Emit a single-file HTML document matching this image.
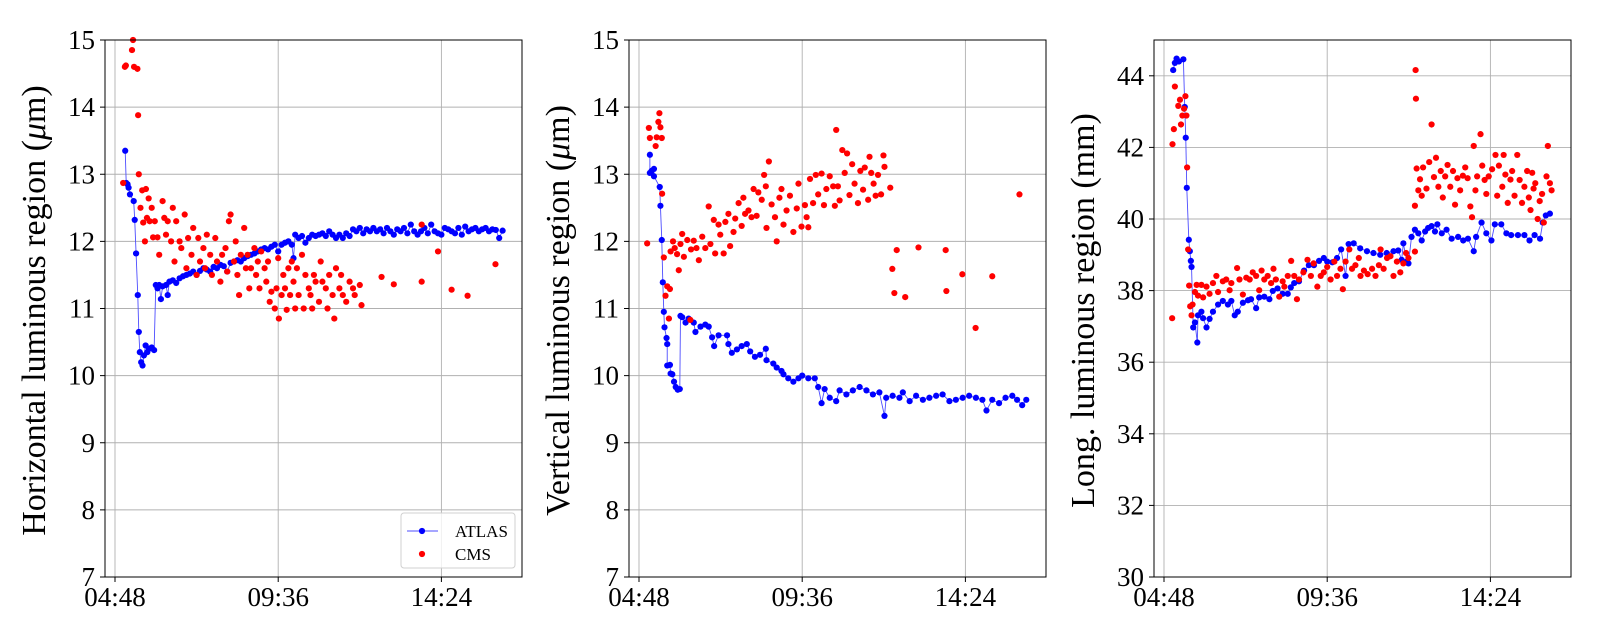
<!DOCTYPE html>
<html><head><meta charset="utf-8"><style>
body{margin:0;background:#fff;}
svg{display:block;font-family:"Liberation Serif",serif;}
</style></head><body>
<svg id="chart" width="1600" height="640" viewBox="0 0 1600 640" xmlns="http://www.w3.org/2000/svg"></svg>
<script>
const xTickHours=[4.8,9.6,14.4];
const xTickLabels=["04:48","09:36","14:24"];
const yTicksHV=[7,8,9,10,11,12,13,14,15];
const yTicksL=[30,32,34,36,38,40,42,44];
const seriesNames=["ATLAS","CMS"];

const atlasH=[[5.1,13.35],[5.13,12.87],[5.17,12.85],[5.2,12.8],[5.24,12.7],[5.35,12.6],[5.38,12.32],[5.42,11.82],[5.47,11.2],[5.5,10.65],[5.53,10.35],[5.57,10.2],[5.61,10.15],[5.65,10.3],[5.7,10.45],[5.75,10.35],[5.8,10.4],[5.88,10.42],[5.95,10.38],[6.0,11.35],[6.05,11.3],[6.1,11.35],[6.15,11.14],[6.2,11.33],[6.3,11.35],[6.35,11.2],[6.4,11.4],[6.5,11.42],[6.6,11.38],[6.7,11.45],[6.8,11.48],[6.9,11.5],[7.0,11.52],[7.1,11.55],[7.2,11.5],[7.3,11.56],[7.4,11.6],[7.5,11.58],[7.6,11.55],[7.7,11.62],[7.8,11.6],[7.9,11.65],[8.0,11.63],[8.1,11.55],[8.2,11.68],[8.3,11.7],[8.4,11.72],[8.5,11.7],[8.6,11.75],[8.7,11.78],[8.8,11.8],[8.9,11.82],[9.0,11.85],[9.1,11.88],[9.2,11.9],[9.3,11.88],[9.4,11.92],[9.5,11.95],[9.6,11.85],[9.7,11.95],[9.8,11.98],[9.9,12.0],[10.0,11.95],[10.05,11.75],[10.1,12.1],[10.2,12.05],[10.3,12.08],[10.4,11.98],[10.5,12.05],[10.6,12.1],[10.7,12.08],[10.8,12.1],[10.9,12.12],[11.0,12.08],[11.1,12.15],[11.2,12.1],[11.3,12.05],[11.4,12.1],[11.5,12.05],[11.6,12.12],[11.7,12.08],[11.8,12.18],[11.9,12.15],[12.0,12.2],[12.1,12.12],[12.2,12.18],[12.3,12.15],[12.4,12.2],[12.5,12.15],[12.6,12.18],[12.7,12.12],[12.8,12.2],[12.9,12.15],[13.0,12.1],[13.1,12.18],[13.2,12.15],[13.3,12.2],[13.4,12.12],[13.5,12.25],[13.6,12.15],[13.7,12.1],[13.8,12.15],[13.9,12.2],[14.0,12.12],[14.1,12.25],[14.2,12.15],[14.3,12.12],[14.4,12.1],[14.5,12.2],[14.6,12.18],[14.7,12.15],[14.8,12.12],[14.9,12.2],[15.0,12.1],[15.1,12.22],[15.2,12.15],[15.3,12.18],[15.4,12.2],[15.5,12.15],[15.6,12.18],[15.7,12.2],[15.8,12.15],[15.9,12.18],[16.0,12.17],[16.1,12.05],[16.2,12.16]];
const cmsH=[[5.04,12.87],[5.09,14.6],[5.12,14.62],[5.3,14.85],[5.33,15.0],[5.36,14.6],[5.46,14.57],[5.48,13.88],[5.5,13.0],[5.55,12.5],[5.6,12.76],[5.63,12.28],[5.68,12.0],[5.71,12.78],[5.74,12.35],[5.79,12.64],[5.82,12.3],[5.88,12.5],[5.92,12.06],[5.97,12.3],[6.05,12.06],[6.1,11.8],[6.2,12.6],[6.25,12.35],[6.3,12.1],[6.35,12.3],[6.45,12.0],[6.5,12.5],[6.55,11.7],[6.6,12.3],[6.7,12.0],[6.75,11.9],[6.85,12.4],[6.9,11.6],[6.95,12.05],[7.05,11.8],[7.1,12.2],[7.2,11.5],[7.25,12.05],[7.3,11.7],[7.4,11.9],[7.45,11.6],[7.5,12.1],[7.6,11.8],[7.65,11.5],[7.75,12.05],[7.8,11.7],[7.9,11.4],[7.95,11.8],[8.05,11.9],[8.1,11.55],[8.15,12.3],[8.2,12.4],[8.3,11.7],[8.35,12.0],[8.4,11.5],[8.45,11.2],[8.5,11.8],[8.6,12.2],[8.65,11.6],[8.7,11.8],[8.75,11.3],[8.8,11.6],[8.9,11.9],[8.95,11.5],[9.0,11.7],[9.05,11.3],[9.1,11.85],[9.2,11.6],[9.25,11.4],[9.3,11.7],[9.35,11.1],[9.4,11.25],[9.5,11.0],[9.55,11.3],[9.6,11.75],[9.62,10.85],[9.7,11.2],[9.75,11.5],[9.8,11.3],[9.85,10.98],[9.9,11.6],[9.95,11.2],[10.0,11.7],[10.05,11.4],[10.1,11.0],[10.15,11.6],[10.2,11.2],[10.3,11.8],[10.35,11.0],[10.4,11.5],[10.5,11.3],[10.55,11.2],[10.6,11.0],[10.65,11.5],[10.7,11.4],[10.8,11.1],[10.85,11.7],[10.9,11.4],[11.0,11.3],[11.05,11.0],[11.1,11.5],[11.2,11.2],[11.25,10.85],[11.3,11.6],[11.4,11.3],[11.45,11.5],[11.5,11.2],[11.6,11.1],[11.7,11.4],[11.8,11.3],[11.85,11.2],[12.0,11.35],[12.05,11.05],[12.64,11.47],[13.0,11.36],[13.82,12.25],[13.82,11.4],[14.3,11.85],[14.7,11.28],[15.17,11.19],[15.99,11.66]];

const atlasV=[[5.12,13.29],[5.12,13.02],[5.17,13.05],[5.24,13.08],[5.24,12.97],[5.41,12.81],[5.43,12.53],[5.47,12.02],[5.5,11.39],[5.53,10.95],[5.55,10.72],[5.61,10.56],[5.63,10.47],[5.63,10.15],[5.71,10.16],[5.73,10.03],[5.78,10.02],[5.83,9.91],[5.88,9.83],[5.94,9.79],[6.0,9.8],[6.02,10.89],[6.07,10.87],[6.17,10.79],[6.26,10.85],[6.41,10.79],[6.46,10.65],[6.61,10.73],[6.75,10.76],[6.85,10.73],[6.95,10.57],[7.01,10.44],[7.14,10.6],[7.39,10.6],[7.43,10.47],[7.53,10.34],[7.68,10.39],[7.82,10.44],[7.97,10.47],[8.07,10.36],[8.21,10.28],[8.36,10.31],[8.53,10.4],[8.55,10.23],[8.75,10.18],[8.85,10.12],[8.99,10.07],[9.05,10.02],[9.19,9.96],[9.34,9.91],[9.49,9.96],[9.6,10.0],[9.78,9.96],[9.97,9.96],[10.07,9.83],[10.17,9.59],[10.26,9.8],[10.41,9.67],[10.6,9.62],[10.7,9.78],[10.9,9.72],[11.09,9.78],[11.29,9.83],[11.49,9.78],[11.68,9.72],[11.87,9.75],[12.02,9.4],[12.07,9.67],[12.26,9.7],[12.46,9.67],[12.56,9.75],[12.76,9.62],[12.95,9.7],[13.15,9.64],[13.34,9.67],[13.54,9.7],[13.73,9.72],[13.93,9.62],[14.12,9.64],[14.32,9.67],[14.51,9.7],[14.71,9.67],[14.9,9.64],[15.02,9.48],[15.19,9.64],[15.39,9.59],[15.58,9.67],[15.78,9.7],[15.92,9.64],[16.07,9.56],[16.19,9.64]];
const cmsV=[[5.04,11.97],[5.09,13.69],[5.12,13.54],[5.29,13.42],[5.32,13.55],[5.37,13.78],[5.4,13.91],[5.43,13.7],[5.47,13.54],[5.48,12.71],[5.53,11.76],[5.58,11.19],[5.63,11.33],[5.71,11.29],[5.68,10.85],[5.73,11.85],[5.8,12.0],[5.85,11.9],[5.92,11.81],[5.97,11.57],[6.02,11.96],[6.07,12.11],[6.12,11.77],[6.22,12.02],[6.31,10.83],[6.33,11.88],[6.41,12.01],[6.49,11.9],[6.56,11.72],[6.66,12.07],[6.75,11.9],[6.85,12.52],[6.9,11.96],[7.0,12.32],[7.04,11.82],[7.14,12.25],[7.19,12.1],[7.29,11.82],[7.34,12.29],[7.43,12.41],[7.48,11.93],[7.58,12.14],[7.63,12.34],[7.73,12.57],[7.82,12.23],[7.87,12.65],[7.92,12.41],[8.02,12.46],[8.11,12.36],[8.17,12.78],[8.26,12.38],[8.31,12.73],[8.41,12.62],[8.48,12.99],[8.53,12.82],[8.55,12.2],[8.62,13.19],[8.7,12.55],[8.8,12.36],[8.85,12.0],[8.93,12.65],[8.99,12.78],[9.05,12.25],[9.14,12.46],[9.24,12.68],[9.34,12.14],[9.44,12.49],[9.49,12.86],[9.58,12.22],[9.68,12.54],[9.73,12.36],[9.78,12.21],[9.83,12.93],[9.92,12.57],[10.0,12.99],[10.07,12.7],[10.17,13.01],[10.24,12.54],[10.31,12.78],[10.41,12.97],[10.51,12.82],[10.56,12.53],[10.6,13.66],[10.65,12.82],[10.7,12.61],[10.78,13.36],[10.85,13.02],[10.92,13.31],[10.99,12.69],[11.07,13.15],[11.14,12.86],[11.24,12.57],[11.31,13.05],[11.39,12.77],[11.44,13.1],[11.54,12.62],[11.58,13.26],[11.63,13.02],[11.7,12.86],[11.76,12.68],[11.83,12.99],[11.92,12.7],[11.99,13.28],[12.02,13.11],[12.19,12.8],[12.25,11.59],[12.31,11.23],[12.38,11.87],[12.63,11.17],[13.02,11.91],[13.82,11.87],[13.84,11.26],[14.31,11.51],[14.7,10.71],[15.19,11.48],[15.99,12.7]];

const atlasL=[[5.07,44.16],[5.12,44.36],[5.17,44.48],[5.24,44.4],[5.37,44.46],[5.41,43.13],[5.44,42.27],[5.47,40.87],[5.53,39.42],[5.56,39.1],[5.59,38.83],[5.61,38.66],[5.66,36.97],[5.71,37.11],[5.78,36.55],[5.8,37.31],[5.9,37.41],[5.95,37.23],[6.05,36.97],[6.14,37.21],[6.24,37.41],[6.39,37.61],[6.53,37.71],[6.68,37.61],[6.78,37.71],[6.88,37.31],[6.97,37.41],[7.12,37.66],[7.27,37.73],[7.36,37.76],[7.51,37.51],[7.6,37.81],[7.75,37.83],[7.9,37.76],[8.0,37.99],[8.14,38.06],[8.29,37.91],[8.44,37.91],[8.53,38.09],[8.63,38.21],[8.77,38.26],[8.92,38.56],[9.06,38.71],[9.21,38.71],[9.36,38.83],[9.5,38.91],[9.6,38.81],[9.75,38.79],[9.89,38.91],[10.01,39.15],[10.14,38.41],[10.23,39.3],[10.38,39.32],[10.57,39.18],[10.77,39.1],[10.96,39.05],[11.16,39.0],[11.35,39.05],[11.55,39.1],[11.69,39.12],[11.79,38.86],[11.84,39.32],[11.94,38.81],[11.99,38.76],[12.08,39.5],[12.18,39.7],[12.28,39.6],[12.38,39.4],[12.48,39.65],[12.57,39.75],[12.67,39.8],[12.77,39.65],[12.84,39.85],[12.97,39.6],[13.11,39.7],[13.26,39.45],[13.45,39.5],[13.6,39.4],[13.74,39.45],[13.91,39.1],[13.98,39.5],[14.14,39.9],[14.28,39.6],[14.43,39.4],[14.53,39.85],[14.72,39.85],[14.87,39.6],[15.01,39.55],[15.21,39.55],[15.4,39.55],[15.55,39.4],[15.7,39.55],[15.86,39.45],[15.94,39.9],[16.03,40.1],[16.15,40.15]];
const cmsL=[[5.04,37.23],[5.05,42.09],[5.09,42.51],[5.12,43.7],[5.22,43.16],[5.27,43.33],[5.3,42.64],[5.34,42.89],[5.39,43.08],[5.43,43.43],[5.46,42.89],[5.48,41.44],[5.51,39.15],[5.54,38.14],[5.57,37.56],[5.61,37.31],[5.64,37.61],[5.71,37.96],[5.76,38.16],[5.8,37.86],[5.9,38.16],[5.95,37.81],[6.05,38.11],[6.14,37.91],[6.24,38.21],[6.34,38.41],[6.39,37.96],[6.53,38.26],[6.63,38.31],[6.73,38.01],[6.78,38.21],[6.95,38.63],[7.02,38.31],[7.12,37.89],[7.22,38.36],[7.32,38.31],[7.41,38.51],[7.51,38.41],[7.6,38.01],[7.67,38.56],[7.75,38.31],[7.85,38.41],[7.95,38.21],[8.02,38.61],[8.09,38.31],[8.19,37.83],[8.29,38.26],[8.34,38.11],[8.44,38.41],[8.54,38.83],[8.63,38.41],[8.71,37.76],[8.77,38.31],[8.9,38.51],[9.02,38.86],[9.12,38.41],[9.2,38.76],[9.31,38.11],[9.41,38.41],[9.5,38.51],[9.6,38.66],[9.7,38.31],[9.81,38.81],[9.89,38.41],[9.99,38.61],[10.06,38.04],[10.14,38.81],[10.25,39.15],[10.33,38.61],[10.43,38.71],[10.53,38.91],[10.58,38.41],[10.68,38.56],[10.79,38.46],[10.92,38.61],[11.02,38.41],[11.12,38.71],[11.17,39.15],[11.26,38.61],[11.36,38.91],[11.46,38.96],[11.55,38.41],[11.65,38.81],[11.75,38.51],[11.84,38.76],[11.92,39.05],[11.99,38.91],[12.18,39.09],[12.18,40.37],[12.2,44.16],[12.21,43.36],[12.23,41.41],[12.28,40.8],[12.33,41.11],[12.38,40.65],[12.42,41.44],[12.52,40.85],[12.6,41.59],[12.67,42.64],[12.74,41.17],[12.8,41.71],[12.87,40.9],[12.94,41.34],[13.0,40.6],[13.07,41.19],[13.14,41.51],[13.22,40.9],[13.3,41.34],[13.36,40.4],[13.43,41.14],[13.51,40.8],[13.59,41.21],[13.66,41.44],[13.73,41.14],[13.81,40.35],[13.86,40.05],[13.91,42.04],[13.96,40.8],[14.01,41.19],[14.11,42.37],[14.16,41.49],[14.23,41.09],[14.28,40.7],[14.35,41.19],[14.45,41.39],[14.55,41.79],[14.6,40.65],[14.65,41.49],[14.75,40.9],[14.79,41.79],[14.84,41.24],[14.91,40.45],[14.99,41.1],[15.04,41.34],[15.11,40.65],[15.19,41.79],[15.26,41.09],[15.33,40.45],[15.4,40.9],[15.48,41.34],[15.53,40.6],[15.58,40.25],[15.63,41.29],[15.67,40.85],[15.72,41.0],[15.79,40.0],[15.85,40.5],[15.92,40.7],[15.97,39.9],[16.05,41.19],[16.09,42.04],[16.15,41.0],[16.2,40.8]];

const NS="http://www.w3.org/2000/svg";
const svg=document.getElementById('chart');
function mk(tag,attrs,parent){const e=document.createElementNS(NS,tag);for(const k in attrs)e.setAttribute(k,attrs[k]);(parent||svg).appendChild(e);return e;}

const TOP=40,BOT=577,W=417,PXH=34,OFF=10;
function drawPanel(left,ymin,ymax,yTicks,atlas,cms,titleA,titleB,key){
  const g=mk('g',{});
  
  
  const x=t=>left+OFF+(t-4.8)*PXH;
  const y=v=>BOT-(v-ymin)/(ymax-ymin)*(BOT-TOP);
  const clip=mk('clipPath',{id:'clip-'+key},g);
  mk('rect',{x:left,y:TOP-4,width:W,height:BOT-TOP+4},clip);
  yTicks.forEach(v=>{
    const yy=y(v);
    const gl=mk('line',{x1:left,x2:left+W,y1:yy,y2:yy,stroke:'#b0b0b0','stroke-width':0.9},g);
    
    
    mk('line',{x1:left-5,x2:left,y1:yy,y2:yy,stroke:'#000','stroke-width':1},g);
    const tl=mk('text',{x:left-10,y:yy+9,'text-anchor':'end','font-size':27},g);
    tl.textContent=v;
    
    
  });
  xTickHours.forEach((h,i)=>{
    const xx=x(h);
    const gl=mk('line',{x1:xx,x2:xx,y1:TOP,y2:BOT,stroke:'#b0b0b0','stroke-width':0.9},g);
    
    
    mk('line',{x1:xx,x2:xx,y1:BOT,y2:BOT+5,stroke:'#000','stroke-width':1},g);
    const tl=mk('text',{x:xx,y:BOT+29,'text-anchor':'middle','font-size':27},g);
    tl.textContent=xTickLabels[i];
    
    
  });
  const dg=mk('g',{'clip-path':'url(#clip-'+key+')'},g);
  const line=mk('polyline',{points:atlas.map(p=>x(p[0])+','+y(p[1])).join(' '),fill:'none',stroke:'#4d4dff','stroke-width':0.9},dg);
  
  
  atlas.forEach(p=>{
    const c=mk('circle',{cx:x(p[0]),cy:y(p[1]),r:3.1,fill:'#0000ff'},dg);
    
    
  });
  cms.forEach(p=>{
    const c=mk('circle',{cx:x(p[0]),cy:y(p[1]),r:3.1,fill:'#ff0000'},dg);
    
    
  });
  const fr=mk('rect',{x:left,y:TOP,width:W,height:BOT-TOP,fill:'none',stroke:'#000','stroke-width':1},g);
  
  
  const cx=left-60, cy=(TOP+BOT)/2+2;
  const yt=mk('text',{x:cx,y:cy,'text-anchor':'middle','font-size':34,transform:'rotate(-90 '+cx+' '+cy+')'},g);
  
  
  const s1=mk('tspan',{},yt); s1.textContent=titleA;
  if(titleB){
    const s2=mk('tspan',{'font-style':'italic'},yt); s2.textContent='\u03bc';
    const s3=mk('tspan',{},yt); s3.textContent=titleB;
  }
}
drawPanel(105,7,15,yTicksHV,atlasH,cmsH,'Horizontal luminous region (','m)','horizontal');
drawPanel(629,7,15,yTicksHV,atlasV,cmsV,'Vertical luminous region (','m)','vertical');
drawPanel(1154,30,45,yTicksL,atlasL,cmsL,'Long. luminous region (mm)','','longitudinal');

// legend
const lg=mk('g',{});


mk('rect',{x:401,y:513,width:114,height:55,rx:3,fill:'#fff','fill-opacity':0.8,stroke:'#d0d0d0','stroke-width':1},lg);
mk('line',{x1:407,x2:438,y1:531,y2:531,stroke:'#4d4dff','stroke-width':0.9},lg);
mk('circle',{cx:422,cy:531,r:3.1,fill:'#0000ff'},lg);
mk('circle',{cx:422,cy:554,r:3.1,fill:'#ff0000'},lg);
const l1=mk('text',{x:455,y:537,'font-size':17},lg);
l1.textContent=seriesNames[0];


const l2=mk('text',{x:455,y:560,'font-size':17},lg);
l2.textContent=seriesNames[1];


</script>
</body></html>
